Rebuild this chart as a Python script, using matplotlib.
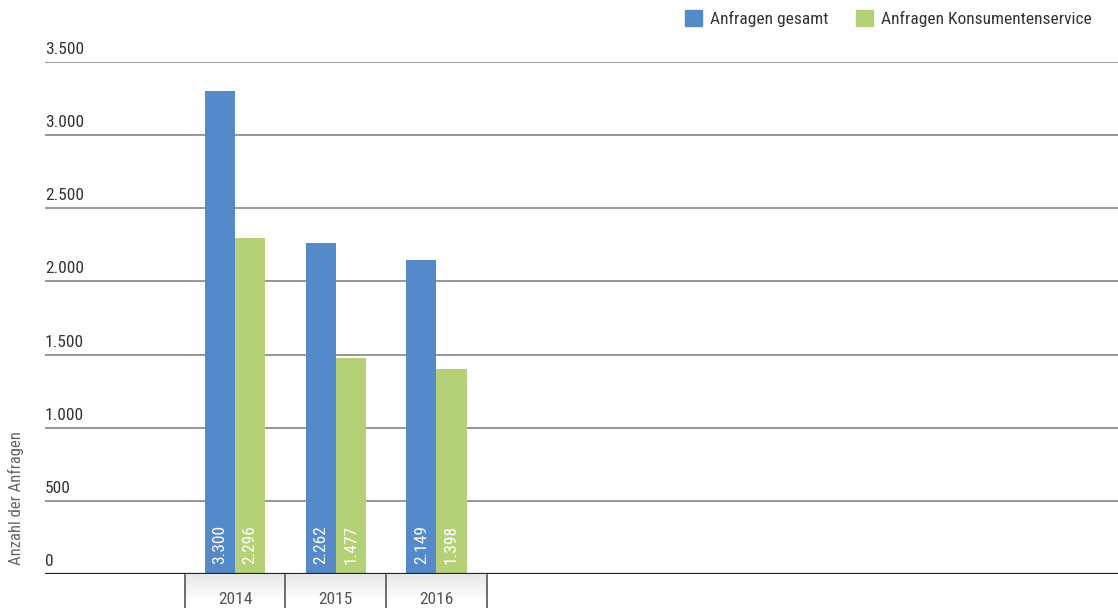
import matplotlib
matplotlib.use("Agg")
import matplotlib.pyplot as plt
from matplotlib import font_manager
import matplotlib.transforms as mtransforms
import numpy as np

years = ["2014", "2015", "2016"]
series_names = ["Anfragen gesamt", "Anfragen Konsumentenservice"]
gesamt = [3300, 2262, 2149]
konsumentenservice = [2296, 1477, 1398]
value_labels_gesamt = ["3.300", "2.262", "2.149"]
value_labels_konsum = ["2.296", "1.477", "1.398"]
y_ticks = [0, 500, 1000, 1500, 2000, 2500, 3000, 3500]
y_tick_labels = ["0", "500", "1.000", "1.500", "2.000", "2.500", "3.000", "3.500"]
y_title = "Anzahl der Anfragen"

BLUE = "#5589c9"
GREEN = "#b5d178"
TEXT = "#333333"
FS = 12.5

available = {f.name for f in font_manager.fontManager.ttflist}
family = [f for f in ["Roboto Condensed", "Roboto", "DejaVu Sans"] if f in available]
plt.rcParams["font.family"] = family

W, H = 1118, 608
fig = plt.figure(figsize=(W / 100, H / 100), dpi=100)
# axes: x 45..1118 px, y 62..574 px (from top)
ax = fig.add_axes([45 / W, (H - 574) / H, (1118 - 45) / W, (574 - 62) / H])

unit = 100.7  # px per category
x = np.arange(len(years))
left = -(235 - 45) / unit
right = (len(years) - 1) + (1118 - 436.5) / unit

bw = 0.30
ax.bar(x - bw / 2, gesamt, width=bw, color=BLUE, zorder=3, label=series_names[0])
ax.bar(x + bw / 2, konsumentenservice, width=bw, color=GREEN, zorder=3, label=series_names[1])

# gridlines
for t in y_ticks[1:]:
    ax.axhline(t, color="#858585", lw=1.2, zorder=1)
ax.axhline(0, color="#222222", lw=1.6, zorder=4)

# y labels, sitting above their gridlines
for t, lab in zip(y_ticks, y_tick_labels):
    ax.annotate(lab, xy=(0, t), xycoords=("axes fraction", "data"),
                xytext=(0, 5), textcoords="offset pixels",
                ha="left", va="bottom", fontsize=FS, color=TEXT)

# value labels inside bars
for xi, lab in zip(x, value_labels_gesamt):
    ax.annotate(lab, xy=(xi - bw / 2, 0), xytext=(0, 10), textcoords="offset pixels",
                rotation=90, ha="center", va="bottom", color="white", fontsize=FS, zorder=5)
for xi, lab in zip(x, value_labels_konsum):
    ax.annotate(lab, xy=(xi + bw / 2, 0), xytext=(0, 10), textcoords="offset pixels",
                rotation=90, ha="center", va="bottom", color="white", fontsize=FS, zorder=5)

# category cells below the axis
trans = mtransforms.blended_transform_factory(ax.transData, fig.transFigure)
cell_top = (H - 575) / H
grad = np.linspace(0.90, 1.0, 64).reshape(-1, 1)
for xi, yr in zip(x, years):
    ax.imshow(np.dstack([grad, grad, grad]), extent=(xi - 0.5, xi + 0.5, -180, -2),
              aspect="auto", clip_on=False, zorder=0, origin="upper")
    ax.text(xi, (H - 600) / H, yr, transform=trans, ha="center", va="center",
            fontsize=FS, color="#555555")
for b in np.arange(len(years) + 1) - 0.5:
    ax.plot([b, b], [cell_top, 0], transform=trans, color="#555555", lw=1.2, clip_on=False)
ax.set_xlim(left, right)
ax.set_ylim(0, 3500)

# y-axis title
fig.text(16 / W, (H - 498) / H, y_title, rotation=90, ha="center", va="center",
         fontsize=12, color="#666666")

# legend
handles = [plt.Rectangle((0, 0), 1, 1, color=BLUE), plt.Rectangle((0, 0), 1, 1, color=GREEN)]
fig.legend(handles, series_names, loc="upper right", bbox_to_anchor=(1092 / W, 1 - 10 / H),
           ncol=2, frameon=False, fontsize=FS, handlelength=1.0, handleheight=1.0,
           handletextpad=0.45, columnspacing=1.6, labelcolor=TEXT, borderaxespad=0,
           borderpad=0)

for s in ax.spines.values():
    s.set_visible(False)
ax.set_xticks([])
ax.set_yticks([])

fig.savefig("out.png", dpi=100)
